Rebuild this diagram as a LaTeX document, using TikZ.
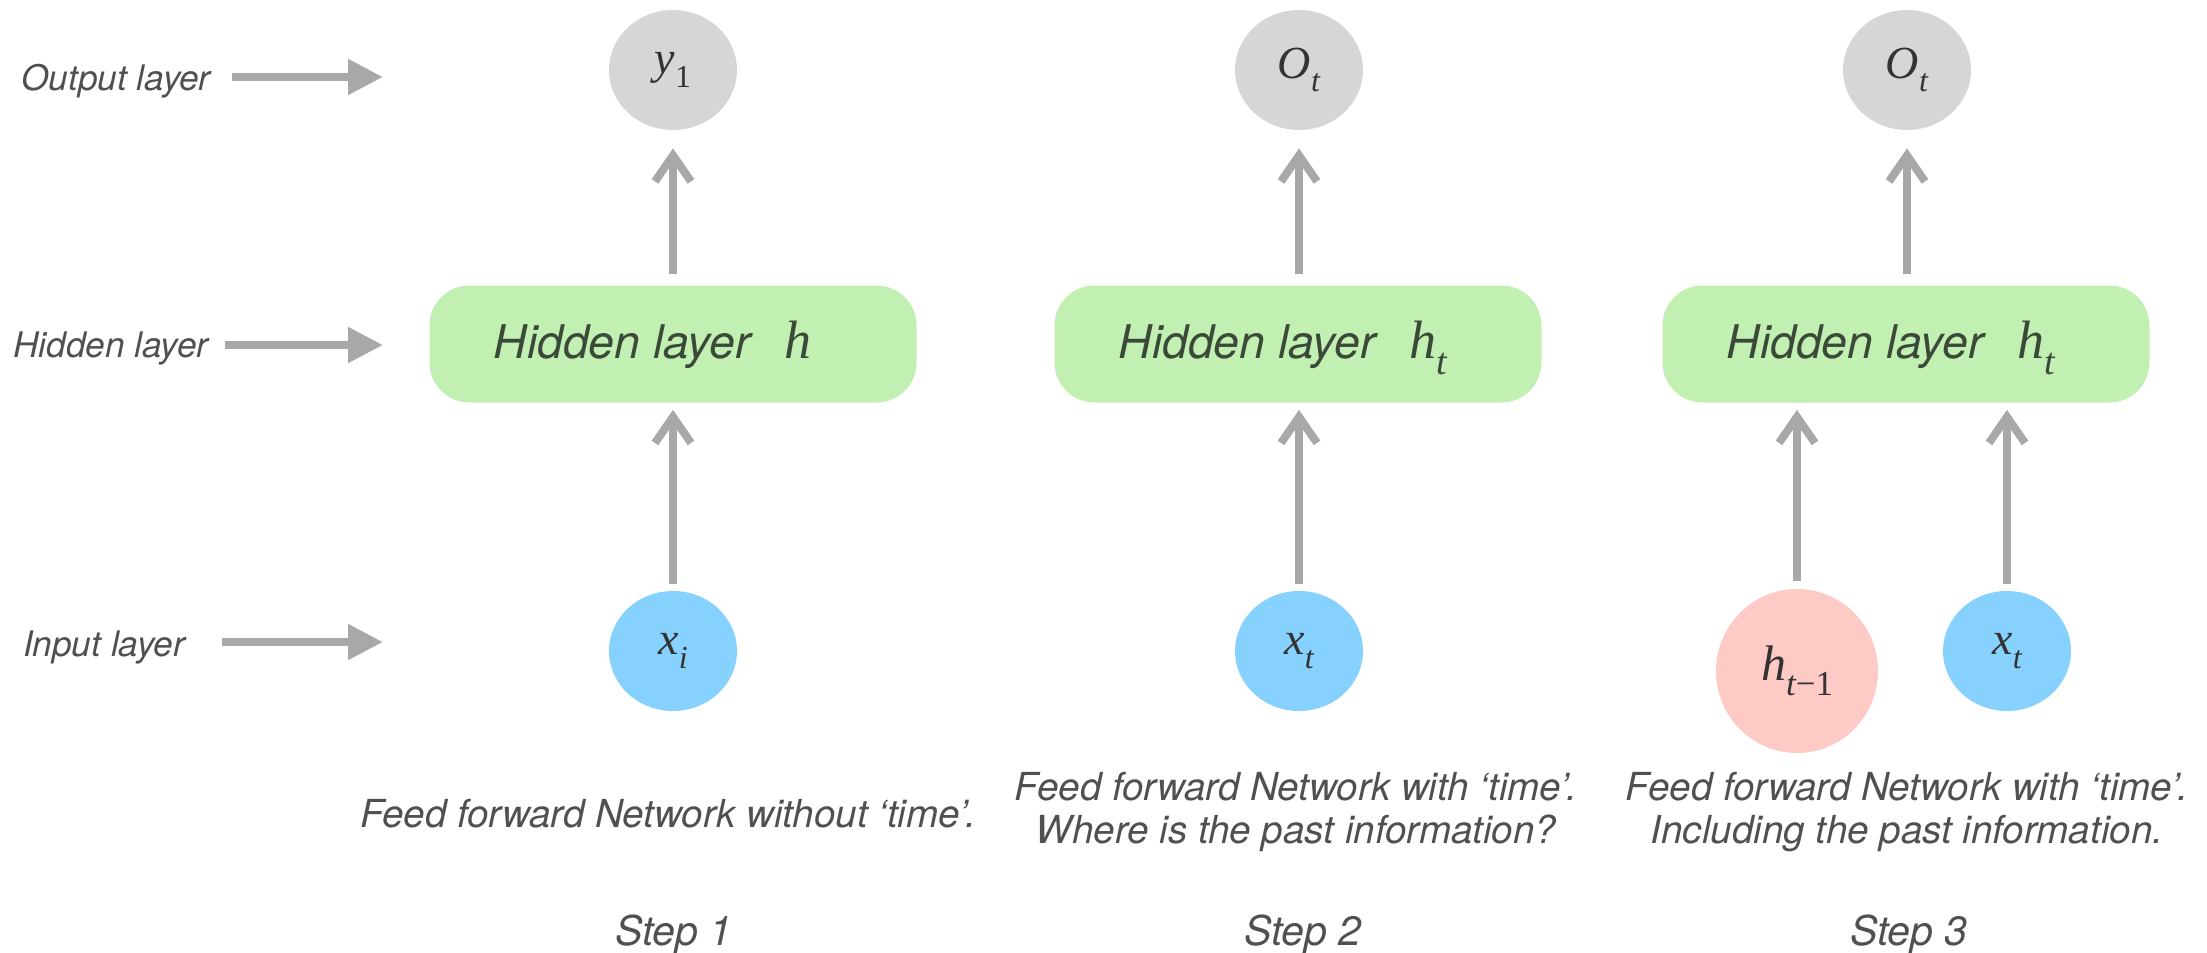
\documentclass[tikz,border=0pt]{standalone}
\usepackage{fontspec}
\setmainfont{TeX Gyre Heros}
\newfontfamily\tmf{Liberation Serif}
\usetikzlibrary{shapes.geometric,arrows.meta}
\definecolor{arrgray}{HTML}{A6A9A8}
\definecolor{outgray}{HTML}{D5D7D6}
\definecolor{hidgreen}{HTML}{C2EFB2}
\definecolor{inblue}{HTML}{86D1FE}
\definecolor{prevpink}{HTML}{FDCAC6}
\definecolor{labgray}{HTML}{505050}
\definecolor{boxtext}{HTML}{3B4A38}
\definecolor{symcol}{HTML}{333333}
\newcommand{\msym}[3]{{\tmf\itshape #1}\raisebox{-0.3em}{\fontsize{#3}{#3}\selectfont\tmf #2}}
\tikzset{
  layerlab/.style={font=\fontsize{17.6}{20}\selectfont\itshape, text=labgray, inner sep=0pt},
  caption/.style={font=\fontsize{19.3}{21.5}\selectfont\itshape, text=labgray, align=center, inner sep=0pt},
  steplab/.style={font=\fontsize{20.5}{23}\selectfont\itshape, text=labgray, inner sep=0pt},
  hbox/.style={fill=hidgreen, rounded corners=20pt, minimum width=243.5pt, minimum height=58.5pt, inner sep=0pt},
  hlab/.style={font=\fontsize{23.2}{26}\selectfont\itshape, text=boxtext, inner sep=0pt, anchor=base west},
  symnode/.style={ellipse, inner sep=0pt, text=symcol, font=\fontsize{23}{26}\selectfont},
  outnode/.style={symnode, fill=outgray, minimum width=64pt, minimum height=60pt},
  innode/.style={symnode, fill=inblue, minimum width=64pt, minimum height=60pt},
  prevnode/.style={symnode, fill=prevpink, minimum width=81pt, minimum height=82pt, font=\fontsize{25}{28}\selectfont},
  layarrow/.style={draw=arrgray, line width=4pt, -{Triangle[length=17.5pt,width=17pt]}},
  uparrow/.style={draw=arrgray, line width=4pt, -{Straight Barb[length=13pt,width=18pt]}},
}
\begin{document}
\begin{tikzpicture}[x=0.5pt,y=-0.5pt]
\useasboundingbox (0,0) rectangle (2207,953);
% left labels
\node[layerlab] (lout) at (116,81) {Output layer};
\node[layerlab] (lhid) at (111,349) {Hidden layer};
\node[layerlab] (lin) at (104,647) {Input layer};
\coordinate (ao1) at (232,77); \coordinate (ao2) at (383,77);
\coordinate (ah1) at (225,345); \coordinate (ah2) at (383,345);
\coordinate (ai1) at (222,642); \coordinate (ai2) at (383,642);
\draw[layarrow] (ao1) -- (ao2);
\draw[layarrow] (ah1) -- (ah2);
\draw[layarrow] (ai1) -- (ai2);
% step 1
\node[outnode] (y1) at (673,70) {\msym{y}{1}{16}};
\node[hbox] (b1) at (673,344) {};
\node[hlab] (t1) at ([xshift=32pt,yshift=-7pt]b1.west) {Hidden layer\hspace{0.72em}{\tmf\fontsize{27}{30}\selectfont h}};
\node[innode] (x1) at (673,651) {\msym{x}{\itshape i}{16}};
\draw[uparrow, shorten <=3.5pt, shorten >=3.5pt] (x1.north) -- (b1.south);
\draw[uparrow, shorten <=5.5pt, shorten >=9pt] (b1.north) -- (y1.south);
\node[caption] (c1) at (668,814) {Feed forward Network without ‘time’.};
\node[steplab] (s1) at (674,935) {Step 1};
% step 2
\node[outnode] (o2) at (1299,70) {\msym{O}{\itshape t}{16}};
\node[hbox] (b2) at (1298,344) {};
\node[hlab] (t2) at ([xshift=32pt,yshift=-7pt]b2.west) {Hidden layer\hspace{0.72em}{\fontsize{27}{30}\selectfont\msym{h}{\itshape t}{19}}};
\node[innode] (x2) at (1299,651) {\msym{x}{\itshape t}{16}};
\draw[uparrow, shorten <=3.5pt, shorten >=3.5pt] (x2.north) -- (x2.north |- b2.south);
\draw[uparrow, shorten <=5.5pt, shorten >=9pt] (o2.south |- b2.north) -- (o2.south);
\node[caption] (c2) at (1296,812) {Feed forward Network with ‘time’.\\Where is the past information?};
\node[steplab] (s2) at (1303,935) {Step 2};
% step 3
\node[outnode] (o3) at (1907,70) {\msym{O}{\itshape t}{16}};
\node[hbox] (b3) at (1906,344) {};
\node[hlab] (t3) at ([xshift=32pt,yshift=-7pt]b3.west) {Hidden layer\hspace{0.72em}{\fontsize{27}{30}\selectfont\msym{h}{\itshape t}{19}}};
\node[prevnode] (p3) at (1797,671) {\msym{h}{{\itshape t}−1}{17.5}};
\node[innode] (x3) at (2007,651) {\msym{x}{\itshape t}{16}};
\draw[uparrow, shorten <=4pt, shorten >=3.5pt] (p3.north) -- (p3.north |- b3.south);
\draw[uparrow, shorten <=3.5pt, shorten >=3.5pt] (x3.north) -- (x3.north |- b3.south);
\draw[uparrow, shorten <=5.5pt, shorten >=9pt] (o3.south |- b3.north) -- (o3.south);
\node[caption] (c3) at (1907,812) {Feed forward Network with ‘time’.\\Including the past information.};
\node[steplab] (s3) at (1909,935) {Step 3};
\end{tikzpicture}
\end{document}
